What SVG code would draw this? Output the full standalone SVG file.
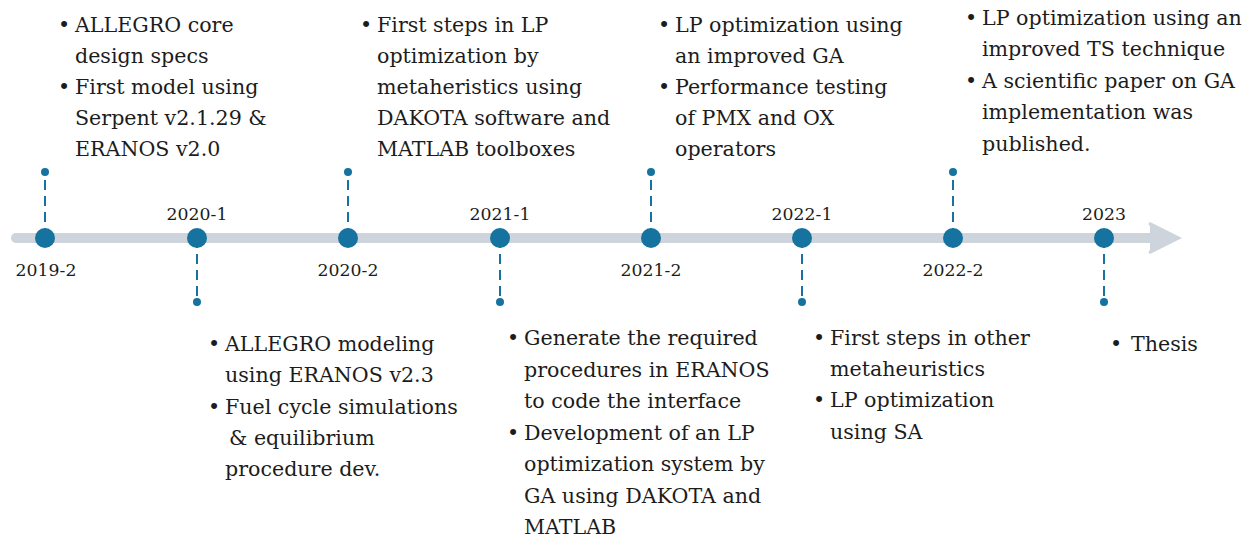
<svg xmlns="http://www.w3.org/2000/svg" width="1258" height="537" viewBox="0 0 1258 537">
  <style>
    .txt { font-family: "DejaVu Serif", "Liberation Serif", serif; font-size: 20.6px; fill: #1c1c1c; }
    .yr { font-family: "DejaVu Serif", "Liberation Serif", serif; font-size: 17.3px; fill: #1c1c1c; text-anchor: middle; }
    .stem { stroke: #16729f; stroke-width: 2; stroke-dasharray: 10 6; fill: none; }
    .dot { fill: #16729f; }
  </style>
  <rect width="1258" height="537" fill="#ffffff"/>

  <!-- timeline axis -->
  <g id="axis">
    <line x1="16" y1="238" x2="1155" y2="238" stroke="#cdd4dc" stroke-width="10" stroke-linecap="round"/>
    <path d="M1150 226 Q1147 224 1150 222 L1182 238 L1150 254 Q1147 252 1150 250 Z" fill="#cdd4dc"/>
  </g>

  <!-- connectors: dashed stems from the axis to the event markers -->
  <g id="connectors">
    <line class="stem" x1="45" y1="238" x2="45" y2="172"/>
    <line class="stem" x1="197" y1="238" x2="197" y2="302"/>
    <line class="stem" x1="348" y1="238" x2="348" y2="172"/>
    <line class="stem" x1="500" y1="238" x2="500" y2="302"/>
    <line class="stem" x1="651" y1="238" x2="651" y2="172"/>
    <line class="stem" x1="802" y1="238" x2="802" y2="302"/>
    <line class="stem" x1="953" y1="238" x2="953" y2="172"/>
    <line class="stem" x1="1104" y1="238" x2="1104" y2="302"/>
  </g>

  <g id="n2019-2">
    <circle class="dot" cx="45" cy="238" r="10"/>
    <circle class="dot" cx="45" cy="172" r="4"/>
    <text class="yr" x="46" y="276">2019-2</text>
    <text class="txt" x="58" y="32">•</text>
    <text class="txt" x="75" y="32">ALLEGRO core</text>
    <text class="txt" x="75" y="63">design specs</text>
    <text class="txt" x="58" y="94">•</text>
    <text class="txt" x="75" y="94">First model using</text>
    <text class="txt" x="75" y="125">Serpent v2.1.29 &amp;</text>
    <text class="txt" x="75" y="156">ERANOS v2.0</text>
  </g>

  <g id="n2020-1">
    <circle class="dot" cx="197" cy="238" r="10"/>
    <circle class="dot" cx="197" cy="302" r="4"/>
    <text class="yr" x="197" y="220">2020-1</text>
    <text class="txt" x="208" y="351">•</text>
    <text class="txt" x="225" y="351">ALLEGRO modeling</text>
    <text class="txt" x="225" y="382">using ERANOS v2.3</text>
    <text class="txt" x="208" y="414">•</text>
    <text class="txt" x="225" y="414">Fuel cycle simulations</text>
    <text class="txt" x="229" y="445">&amp; equilibrium</text>
    <text class="txt" x="225" y="476">procedure dev.</text>
  </g>

  <g id="n2020-2">
    <circle class="dot" cx="348" cy="238" r="10"/>
    <circle class="dot" cx="348" cy="172" r="4"/>
    <text class="yr" x="348" y="276">2020-2</text>
    <text class="txt" x="360" y="32">•</text>
    <text class="txt" x="377" y="32">First steps in LP</text>
    <text class="txt" x="377" y="63">optimization by</text>
    <text class="txt" x="377" y="94">metaheristics using</text>
    <text class="txt" x="377" y="125">DAKOTA software and</text>
    <text class="txt" x="377" y="156">MATLAB toolboxes</text>
  </g>

  <g id="n2021-1">
    <circle class="dot" cx="500" cy="238" r="10"/>
    <circle class="dot" cx="500" cy="302" r="4"/>
    <text class="yr" x="500" y="220">2021-1</text>
    <text class="txt" x="507" y="345">•</text>
    <text class="txt" x="524" y="345">Generate the required</text>
    <text class="txt" x="524" y="377">procedures in ERANOS</text>
    <text class="txt" x="524" y="408">to code the interface</text>
    <text class="txt" x="507" y="440">•</text>
    <text class="txt" x="524" y="440">Development of an LP</text>
    <text class="txt" x="524" y="471">optimization system by</text>
    <text class="txt" x="524" y="503">GA using DAKOTA and</text>
    <text class="txt" x="524" y="534">MATLAB</text>
  </g>

  <g id="n2021-2">
    <circle class="dot" cx="651" cy="238" r="10"/>
    <circle class="dot" cx="651" cy="172" r="4"/>
    <text class="yr" x="651" y="276">2021-2</text>
    <text class="txt" x="658" y="32">•</text>
    <text class="txt" x="675" y="32">LP optimization using</text>
    <text class="txt" x="675" y="63">an improved GA</text>
    <text class="txt" x="658" y="94">•</text>
    <text class="txt" x="675" y="94">Performance testing</text>
    <text class="txt" x="675" y="125">of PMX and OX</text>
    <text class="txt" x="675" y="156">operators</text>
  </g>

  <g id="n2022-1">
    <circle class="dot" cx="802" cy="238" r="10"/>
    <circle class="dot" cx="802" cy="302" r="4"/>
    <text class="yr" x="802" y="220">2022-1</text>
    <text class="txt" x="813" y="345">•</text>
    <text class="txt" x="830" y="345">First steps in other</text>
    <text class="txt" x="830" y="376">metaheuristics</text>
    <text class="txt" x="813" y="407">•</text>
    <text class="txt" x="830" y="407">LP optimization</text>
    <text class="txt" x="830" y="439">using SA</text>
  </g>

  <g id="n2022-2">
    <circle class="dot" cx="953" cy="238" r="10"/>
    <circle class="dot" cx="953" cy="172" r="4"/>
    <text class="yr" x="953" y="276">2022-2</text>
    <text class="txt" x="965" y="25">•</text>
    <text class="txt" x="982" y="25">LP optimization using an</text>
    <text class="txt" x="982" y="56">improved TS technique</text>
    <text class="txt" x="965" y="88">•</text>
    <text class="txt" x="982" y="88">A scientific paper on GA</text>
    <text class="txt" x="982" y="119">implementation was</text>
    <text class="txt" x="982" y="151">published.</text>
  </g>

  <g id="n2023">
    <circle class="dot" cx="1104" cy="238" r="10"/>
    <circle class="dot" cx="1104" cy="302" r="4"/>
    <text class="yr" x="1104" y="220">2023</text>
    <text class="txt" x="1110" y="351">•</text>
    <text class="txt" x="1131" y="351">Thesis</text>
  </g>
</svg>
